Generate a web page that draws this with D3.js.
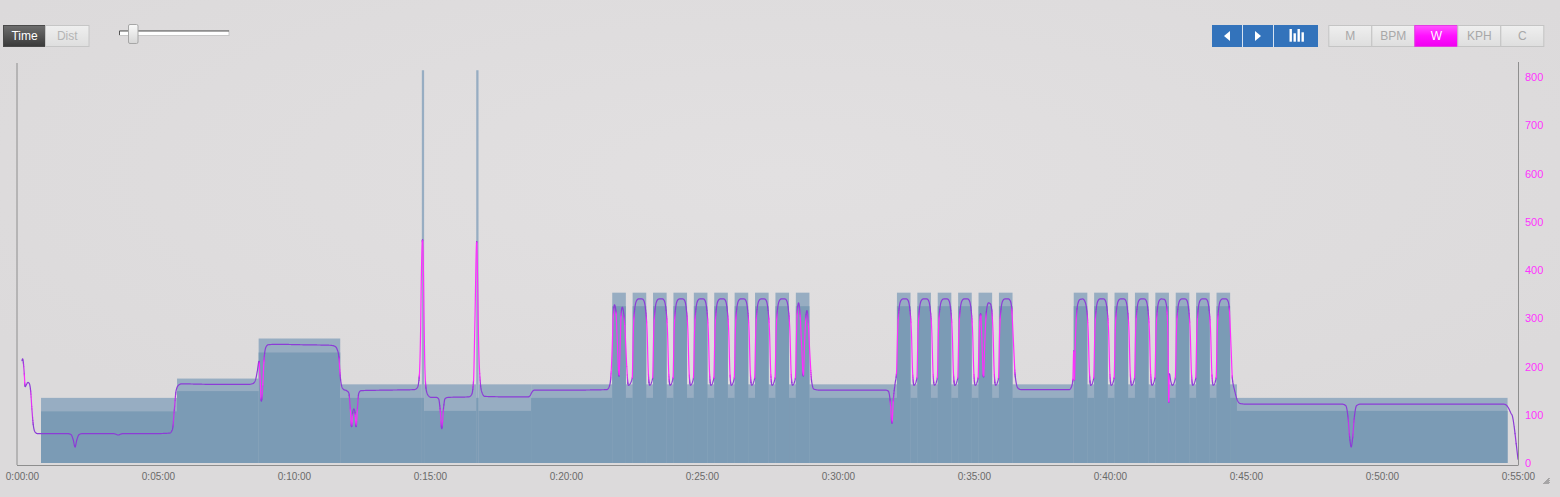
<!DOCTYPE html>
<html><head><meta charset="utf-8">
<script src="https://cdn.jsdelivr.net/npm/d3@7"></script>
<style>
html,body{margin:0;padding:0;background:#dedcdd;overflow:hidden}
svg{display:block;font-family:"Liberation Sans",Arial,Helvetica,sans-serif}
</style></head><body>
<svg id="c" width="1560" height="497"></svg>
<script>
// ---------------- data ----------------
// target blocks: [start s, end s, low W, high W]
const blocks = [
  [42, 342, 107, 135], [342, 522, 149, 175], [522, 702, 229, 258], [702, 882, 135, 163],
  [882, 887, 135, 814], [887, 1002, 108, 163], [1002, 1007, 135, 814], [1007, 1123, 108, 163],
  [1123, 1930, 135, 163], [1930, 2320, 135, 163], [2320, 2680, 135, 163], [2680, 3277, 108, 135]
];
// work reps: [start s, end s, low W, high W]
const reps = [
  [1302,1332,325,353],[1347,1377,325,353],[1392,1422,325,353],[1437,1467,325,353],[1482,1512,325,353],
  [1527,1557,325,353],[1572,1602,325,353],[1617,1647,325,353],[1662,1692,325,353],[1707,1737,325,353],
  [1930,1960,325,353],[1975,2005,325,353],[2020,2050,325,353],[2065,2095,325,353],[2110,2140,325,353],[2155,2185,325,353],
  [2320,2350,325,353],[2365,2395,325,353],[2410,2440,325,353],[2455,2485,325,353],[2500,2530,325,353],
  [2545,2575,325,353],[2590,2620,325,353],[2635,2665,325,353]
];
// power line: [time s, watts]
const power = [
  [0,212],[1.5,216],[3,208],[5,185],[7,158],[10,163],[13,167],[16,165],[19,150],[22,110],[25,78],[29,64],[34,61],
  [60,61],[100,61],[108,59],[113,48],[117,33],[121,48],[126,59],[134,61],[200,61],[206,60],[212,58],[218,60],[224,61],
  [300,61],[326,62],[332,70],[336,110],[340,150],[345,161],[352,164],[420,163],[500,163],[510,165],[515,172],[519,190],
  [523,211],[525,180],[528,128],[531,160],[534,215],[538,240],[543,245],[560,246],[620,245],[680,244],[690,242],[695,236],
  [699,220],[702,180],[705,160],[710,152],[716,150],[721,145],[724,115],[727,75],[729.5,105],[732,112],[734.5,105],[737,75],
  [740,115],[743,145],[748,150],[800,151],[865,152],[872,156],[876,175],[879,260],[881,390],[883.5,463],[885.5,400],[887,290],
  [889,190],[892,150],[897,139],[903,136],[914,136],[919,133],[922,115],[926,71],[930,115],[933,133],[940,136],[985,137],
  [992,142],[996,170],[999,290],[1003,459],[1005,380],[1007,260],[1010,180],[1014,148],[1021,138],[1080,137],[1117,137],
  [1121,140],[1125,147],[1130,151],[1200,151],[1290,152],[1296,160],[1299,180],
  [1302,240],[1304,300],[1307,328],[1310,315],[1313,255],[1317,180],[1319.5,245],[1321.5,305],[1324,323],[1328,305],[1331,260],[1334,200],[1337.5,161],
  [1346,175],[1348.5,270],[1352,322],[1356,337],[1360,340],[1368,340],[1372,336],[1375,322],[1379,270],[1381.5,190],[1384.5,161],
  [1391,175],[1393.5,270],[1397,322],[1401,337],[1405,340],[1413,340],[1417,336],[1420,322],[1424,270],[1426.5,190],[1429.5,161],
  [1436,175],[1438.5,270],[1442,322],[1446,337],[1450,340],[1458,340],[1462,336],[1465,322],[1469,270],[1471.5,190],[1474.5,161],
  [1481,175],[1483.5,270],[1487,322],[1491,337],[1495,340],[1503,340],[1507,336],[1510,322],[1514,270],[1516.5,190],[1519.5,161],
  [1526,175],[1528.5,270],[1532,322],[1536,337],[1540,340],[1548,340],[1552,336],[1555,322],[1559,270],[1561.5,190],[1564.5,161],
  [1571,175],[1573.5,270],[1577,322],[1581,337],[1585,340],[1593,340],[1597,336],[1600,322],[1604,270],[1606.5,190],[1609.5,161],
  [1616,175],[1618.5,270],[1622,322],[1626,337],[1630,340],[1638,340],[1642,336],[1645,322],[1649,270],[1651.5,190],[1654.5,161],
  [1661,175],[1663.5,270],[1667,322],[1671,337],[1675,340],[1683,340],[1687,336],[1690,322],[1694,270],[1696.5,190],[1699.5,161],
  [1706,175],[1708,250],[1710,310],[1713,332],[1716,312],[1720,240],[1723.5,180],[1726,240],[1729,303],[1731.5,316],[1734,295],[1738,225],[1742,168],[1747,153],[1760,151],
  [1850,151],[1905,151],[1911,149],[1915,130],[1919,82],[1922,130],[1926,165],[1929,185],
  [1931.5,270],[1935,322],[1939,337],[1943,340],[1951,340],[1955,336],[1958,322],[1962,270],[1964.5,190],[1967.5,161],
  [1974,175],[1976.5,270],[1980,322],[1984,337],[1988,340],[1996,340],[2000,336],[2003,322],[2007,270],[2009.5,190],[2012.5,161],
  [2019,175],[2021.5,270],[2025,322],[2029,337],[2033,340],[2041,340],[2045,336],[2048,322],[2052,270],[2054.5,190],[2057.5,161],
  [2064,175],[2066.5,270],[2070,322],[2074,337],[2078,340],[2086,340],[2090,336],[2093,322],[2097,270],[2099.5,190],[2102.5,161],
  [2109,175],[2111,250],[2113,295],[2114.5,310],[2117,265],[2121,178],[2124,255],[2127.5,315],[2132,332],[2136,330],[2139,318],[2142,270],[2144.5,190],[2147.5,161],
  [2154,175],[2156.5,270],[2160,322],[2164,337],[2168,340],[2176,340],[2180,336],[2183,322],[2187,250],[2191,180],[2197,155],[2205,152],
  [2260,152],[2310,152],[2315,158],[2318,172],[2320,232],[2321.5,172],[2323.5,250],[2326,305],[2330,333],[2334,339],
  [2340,340],[2344,336],[2348,322],[2352,270],[2354.5,190],[2357.5,161],
  [2364,175],[2366.5,270],[2370,322],[2374,337],[2378,340],[2386,340],[2390,336],[2393,322],[2397,270],[2399.5,190],[2402.5,161],
  [2409,175],[2411.5,270],[2415,322],[2419,337],[2423,340],[2431,340],[2435,336],[2438,322],[2442,270],[2444.5,190],[2447.5,161],
  [2454,175],[2456.5,270],[2460,322],[2464,337],[2468,340],[2476,340],[2480,336],[2483,322],[2487,270],[2489.5,190],[2492.5,161],
  [2499,175],[2501.5,270],[2505,322],[2509,337],[2513,340],[2520,339],[2523,334],[2526,310],[2528,250],[2529.5,126],[2531,185],[2534,170],[2537.5,161],
  [2544,175],[2546.5,270],[2550,322],[2554,337],[2558,340],[2566,340],[2570,336],[2573,322],[2577,270],[2579.5,190],[2582.5,161],
  [2589,175],[2591.5,270],[2595,322],[2599,337],[2603,340],[2611,340],[2615,336],[2618,322],[2622,270],[2624.5,190],[2627.5,161],
  [2634,175],[2636.5,270],[2640,322],[2644,337],[2648,340],[2656,340],[2660,336],[2663,322],[2667,240],[2670,175],[2675,150],[2682,128],[2688,123],[2700,122],
  [2800,122],[2912,122],[2920,119],[2925,95],[2929,50],[2932,33],[2935,50],[2939,95],[2944,119],[2952,122],
  [3100,122],[3268,122],[3274,120],[3279,114],[3284,104],[3288,96],[3292,72],[3296,40],[3300,8]
];
const timeTicks = [0,300,600,900,1200,1500,1800,2100,2400,2700,3000,3300];
const timeLabels = ["0:00:00","0:05:00","0:10:00","0:15:00","0:20:00","0:25:00","0:30:00","0:35:00","0:40:00","0:45:00","0:50:00","0:55:00"];
const wattTicks = [0,100,200,300,400,500,600,700,800];
const modeButtons = ["Time","Dist"];
const unitButtons = ["M","BPM","W","KPH","C"];
const activeUnit = "W";

// ---------------- drawing ----------------
const svg = d3.select('#c');
const defs = svg.append('defs');
function lg(id, stops){
  const g = defs.append('linearGradient').attr('id',id).attr('x1',0).attr('y1',0).attr('x2',0).attr('y2',1);
  stops.forEach(s=>g.append('stop').attr('offset',s[0]).attr('stop-color',s[1]));
}
lg('gDark',[[0,'#6e6e6e'],[1,'#3a3a3a']]);
lg('gLight',[[0,'#efefef'],[1,'#dedede']]);
lg('gMag',[[0,'#ff55ff'],[0.5,'#ff10ff'],[1,'#f000f0']]);
lg('gKnob',[[0,'#fafafa'],[1,'#d6d6d6']]);
const bgGrad = defs.append('radialGradient').attr('id','bg').attr('cx','50%').attr('cy','35%').attr('r','60%');
bgGrad.append('stop').attr('offset',0).attr('stop-color','#e2e0e1');
bgGrad.append('stop').attr('offset',1).attr('stop-color','#dcdadb');
svg.append('rect').attr('width',1560).attr('height',497).attr('fill','url(#bg)');

const x = d3.scaleLinear().domain([0,3300]).range([22,1518]);
const y = d3.scaleLinear().domain([0,800]).range([463,77]);

// blocks
const LIGHT = '#97adc2', DARK = '#7b9bb5';
const gB = svg.append('g');
function drawBlocks(data){
  gB.selectAll(null).data(data).enter().append('rect')
    .attr('x',d=>x(d[0])).attr('width',d=>x(d[1])-x(d[0]))
    .attr('y',d=>y(d[3])).attr('height',d=>y(0)-y(d[3])).attr('fill',LIGHT);
  gB.selectAll(null).data(data).enter().append('rect')
    .attr('x',d=>x(d[0])).attr('width',d=>x(d[1])-x(d[0]))
    .attr('y',d=>y(d[2])).attr('height',d=>y(0)-y(d[2])).attr('fill',DARK);
}
drawBlocks(blocks);
drawBlocks(reps);

// power line, coloured by steepness
const lineGen = d3.line().x(d=>x(d[0])).y(d=>y(d[1])).curve(d3.curveMonotoneX);
const tmp = svg.append('path').attr('d',lineGen(power)).attr('fill','none').attr('stroke','none');
const node = tmp.node();
const L = node.getTotalLength();
const pts = [];
for(let s=0;s<=L;s+=0.5) pts.push(node.getPointAtLength(s));
pts.push(node.getPointAtLength(L));
tmp.remove();
const cInt = d3.interpolateRgb('#8c3cd6','#ff2dff');
const NB = 8;
let runs = [], cur = null;
for(let i=0;i<pts.length-1;i++){
  const a=pts[i], b=pts[i+1];
  const dx=Math.abs(b.x-a.x), dy=Math.abs(b.y-a.y);
  const r = dy/Math.max(dx,1e-4);
  let k = Math.max(0,Math.min(1,(r-8)/(18-8)));
  const bk = Math.round(k*NB);
  if(!cur || cur.b!==bk){ cur={b:bk,p:[a]}; runs.push(cur); }
  cur.p.push(b);
}
const gL = svg.append('g');
runs.forEach(rn=>{
  gL.append('path').attr('d','M'+rn.p.map(p=>p.x.toFixed(2)+','+p.y.toFixed(2)).join('L'))
    .attr('fill','none').attr('stroke',cInt(rn.b/NB)).attr('stroke-width',1.2)
    .attr('stroke-linejoin','round').attr('stroke-linecap','round');
});

// axes
const axCol = '#8e8e8e';
svg.append('line').attr('x1',17).attr('x2',17).attr('y1',63).attr('y2',465).attr('stroke',axCol);
svg.append('line').attr('x1',1518.5).attr('x2',1518.5).attr('y1',62).attr('y2',465).attr('stroke',axCol);
svg.append('line').attr('x1',17).attr('x2',1518.5).attr('y1',465.5).attr('y2',465.5).attr('stroke',axCol);

const xAxis = svg.append('g').attr('transform','translate(0,465)')
  .call(d3.axisBottom(x).tickValues(timeTicks).tickFormat((d,i)=>timeLabels[i]).tickSize(0).tickPadding(8));
xAxis.select('.domain').remove();
xAxis.selectAll('text').attr('fill','#6a6a6a').style('font-size','10px').style('font-family','"Liberation Sans",Arial,sans-serif');

const yAxis = svg.append('g').attr('transform','translate(1518,0)')
  .call(d3.axisRight(y).tickValues(wattTicks).tickSize(0).tickPadding(7));
yAxis.select('.domain').remove();
yAxis.selectAll('text').attr('fill','#ff33ff').style('font-size','11px').style('font-family','"Liberation Sans",Arial,sans-serif');

// resize grip
const grip = svg.append('g').attr('stroke','#555').attr('stroke-width',0.8);
[[1543.5,484,1549.5,478],[1545.5,484,1549.5,480],[1547.5,484,1549.5,482]].forEach(l=>
  grip.append('line').attr('x1',l[0]).attr('y1',l[1]).attr('x2',l[2]).attr('y2',l[3]));

// ---------------- controls ----------------
// Time / Dist
const modeX = [3,45], modeW = [42,43.5];
modeButtons.forEach((m,i)=>{
  svg.append('rect').attr('x',modeX[i]+0.5).attr('y',25.5).attr('width',modeW[i]).attr('height',21)
    .attr('fill', i===0?'url(#gDark)':'url(#gLight)').attr('stroke', i===0?'#4a4a4a':'#c6c6c6');
  svg.append('text').attr('x',modeX[i]+modeW[i]/2+0.5).attr('y',40).attr('text-anchor','middle')
    .attr('fill', i===0?'#ffffff':'#b4b4b4').style('font-size','12px').text(m);
});
// slider
svg.append('rect').attr('x',119.5).attr('y',30.5).attr('width',109.5).attr('height',5)
  .attr('fill','#ffffff').attr('stroke','#c8c8c8');
svg.append('line').attr('x1',119.5).attr('x2',229).attr('y1',31).attr('y2',31).attr('stroke','#555');
svg.append('line').attr('x1',119.5).attr('x2',119.5).attr('y1',31).attr('y2',35).attr('stroke','#555');
svg.append('rect').attr('x',128.5).attr('y',24.5).attr('width',9.5).attr('height',19).attr('rx',1.5)
  .attr('fill','url(#gKnob)').attr('stroke','#a6a6a6');

// blue nav buttons
const BLUE = '#3373bb';
svg.append('rect').attr('x',1212).attr('y',25).attr('width',106).attr('height',22).attr('fill',BLUE);
svg.append('line').attr('x1',1242.5).attr('x2',1242.5).attr('y1',25).attr('y2',47).attr('stroke','#ffffff').attr('stroke-opacity',0.8);
svg.append('line').attr('x1',1273.5).attr('x2',1273.5).attr('y1',25).attr('y2',47).attr('stroke','#ffffff').attr('stroke-opacity',0.8);
svg.append('path').attr('d','M1224,36 L1230,31 L1230,41 Z').attr('fill','#fff');
svg.append('path').attr('d','M1261,36 L1255,31 L1255,41 Z').attr('fill','#fff');
[[1289.5,29,12.7],[1293.5,33.3,8.4],[1297.5,29,12.7],[1301.5,32.3,9.4]].forEach(b=>
  svg.append('rect').attr('x',b[0]).attr('y',b[1]).attr('width',2.4).attr('height',b[2]).attr('fill','#fff'));

// unit buttons
const ux0 = 1328.3, uw = 43;
unitButtons.forEach((u,i)=>{
  const act = u===activeUnit;
  svg.append('rect').attr('x',ux0+i*uw+0.5).attr('y',25.5).attr('width',uw).attr('height',21)
    .attr('fill', act?'url(#gMag)':'url(#gLight)').attr('stroke', act?'#e43be4':'#c4c4c4');
  svg.append('text').attr('x',ux0+i*uw+uw/2+0.5).attr('y',40).attr('text-anchor','middle')
    .attr('fill', act?'#ffffff':'#a8a8a8').style('font-size','12px').text(u);
});
</script>
</body></html>
